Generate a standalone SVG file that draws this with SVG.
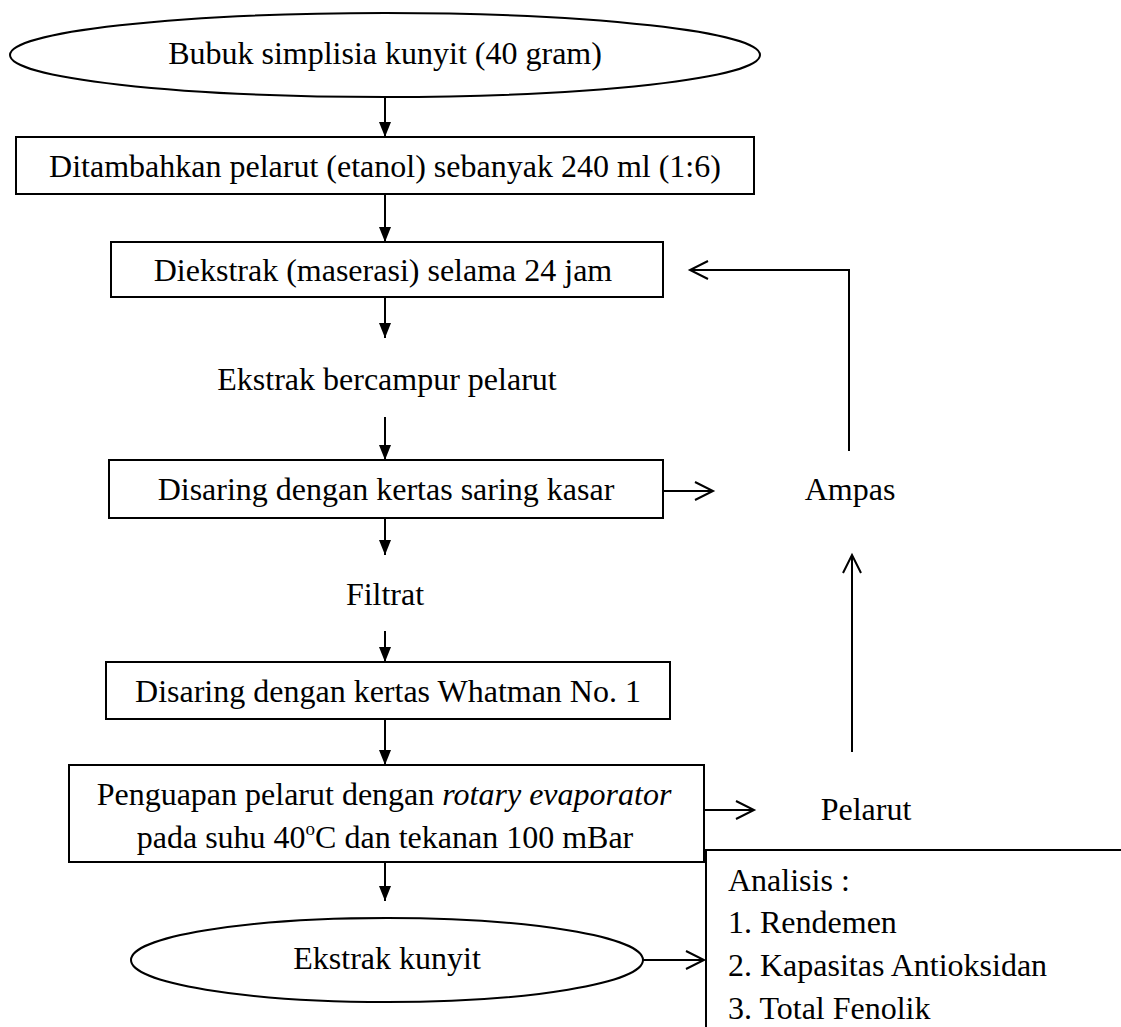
<svg xmlns="http://www.w3.org/2000/svg" width="1121" height="1027" viewBox="0 0 1121 1027">
<style>
.shape{fill:#fff;stroke:#000;stroke-width:2}
.t{font-family:"Liberation Serif","Times New Roman",serif;font-size:32px;fill:#000}
.c{text-anchor:middle}
.line{fill:none;stroke:#000;stroke-width:2}
.f{marker-end:url(#filled)}
.o{marker-end:url(#open)}
</style>
<defs>
<marker id="filled" markerUnits="userSpaceOnUse" viewBox="0 0 15 12" refX="15" refY="6" markerWidth="15" markerHeight="12" orient="auto">
<path d="M0,0 L15,6 L0,12 Z" fill="#000"/>
</marker>
<marker id="open" markerUnits="userSpaceOnUse" viewBox="-1 -11 22 22" refX="19" refY="0" markerWidth="22" markerHeight="22" orient="auto" overflow="visible">
<path d="M1,-9 L19,0 L1,9" fill="none" stroke="#000" stroke-width="2"/>
</marker>
</defs>
<rect width="1121" height="1027" fill="#fff"/>

<g id="connectors">
<line class="line f" x1="385" y1="97" x2="385" y2="137"/>
<line class="line f" x1="385" y1="194" x2="385" y2="242"/>
<line class="line f" x1="385" y1="297" x2="385" y2="338"/>
<line class="line f" x1="385" y1="417" x2="385" y2="460"/>
<line class="line f" x1="385" y1="518" x2="385" y2="555"/>
<line class="line f" x1="385" y1="631" x2="385" y2="662"/>
<line class="line f" x1="385" y1="719" x2="385" y2="765"/>
<line class="line f" x1="385" y1="862" x2="385" y2="901"/>
<line class="line o" x1="663" y1="491" x2="713" y2="491"/>
<line class="line o" x1="704" y1="810" x2="754" y2="810"/>
<line class="line o" x1="643" y1="960" x2="704" y2="960"/>
<line class="line o" x1="852" y1="752" x2="852" y2="555"/>
<polyline class="line o" points="849,451 849,270 690,270"/>
</g>

<g id="start">
<ellipse class="shape" cx="385" cy="55" rx="375" ry="42"/>
<text class="t c" x="385" y="64">Bubuk simplisia kunyit (40 gram)</text>
</g>

<g id="tambah">
<rect class="shape" x="16" y="137" width="738" height="57"/>
<text class="t c" x="385" y="177">Ditambahkan pelarut (etanol) sebanyak 240 ml (1:6)</text>
</g>

<g id="ekstrak">
<rect class="shape" x="111" y="242" width="552" height="55"/>
<text class="t c" x="383" y="281">Diekstrak (maserasi) selama 24 jam</text>
</g>

<g id="campur">
<text class="t c" x="387" y="390">Ekstrak bercampur pelarut</text>
</g>

<g id="saring-kasar">
<rect class="shape" x="109" y="460" width="554" height="58"/>
<text class="t c" x="386" y="500">Disaring dengan kertas saring kasar</text>
</g>

<g id="ampas">
<text class="t c" x="850" y="500">Ampas</text>
</g>

<g id="filtrat">
<text class="t c" x="385" y="605">Filtrat</text>
</g>

<g id="whatman">
<rect class="shape" x="106" y="662" width="564" height="57"/>
<text class="t c" x="388" y="702">Disaring dengan kertas Whatman No. 1</text>
</g>

<g id="penguapan">
<rect class="shape" x="69" y="765" width="635" height="97"/>
<text class="t c" x="384" y="805">Penguapan pelarut dengan <tspan font-style="italic">rotary evaporator</tspan></text>
<text class="t c" x="385" y="848">pada suhu 40<tspan font-size="19" dy="-13">o</tspan><tspan dy="13">C dan tekanan 100 mBar</tspan></text>
</g>

<g id="pelarut">
<text class="t c" x="866" y="820">Pelarut</text>
</g>

<g id="hasil">
<ellipse class="shape" cx="387" cy="960" rx="256" ry="42"/>
<text class="t c" x="387" y="969">Ekstrak kunyit</text>
</g>

<g id="analisis">
<rect class="shape" x="706" y="850" width="500" height="300"/>
<text class="t" x="728" y="891">Analisis :</text>
<text class="t" x="728" y="933">1. Rendemen</text>
<text class="t" x="728" y="976">2. Kapasitas Antioksidan</text>
<text class="t" x="728" y="1019">3. Total Fenolik</text>
</g>
</svg>
